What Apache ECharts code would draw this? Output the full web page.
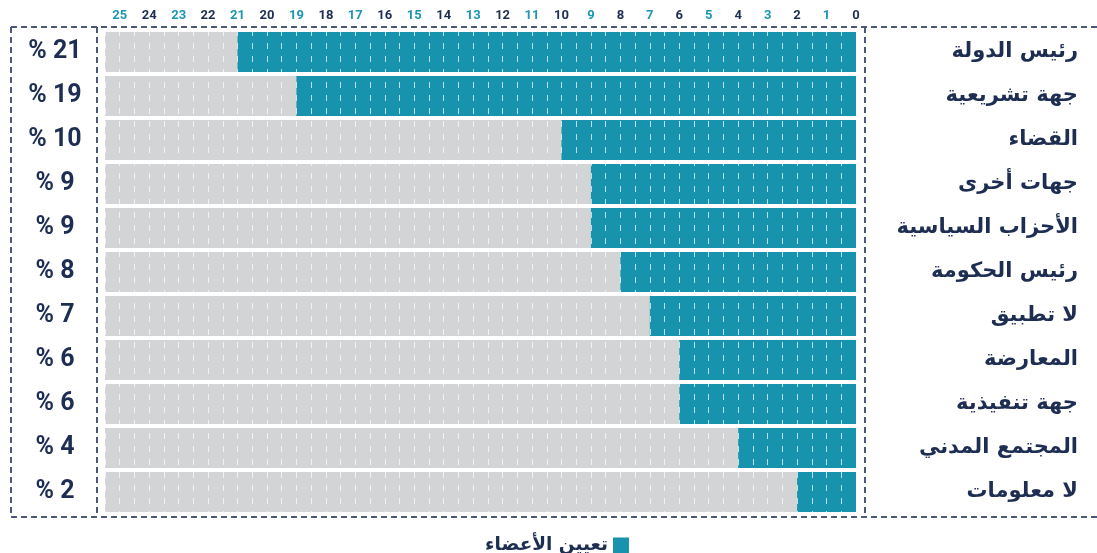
<!DOCTYPE html>
<html>
<head>
<meta charset="utf-8">
<script src="https://cdn.jsdelivr.net/npm/echarts@6/dist/echarts.min.js"></script>
<style>
  html, body { margin: 0; padding: 0; background: #fff; }
  #chart { width: 1097px; height: 553px; }
</style>
</head>
<body>
<div id="chart"></div>
<script>
// data
const categories = ['رئيس الدولة', 'جهة تشريعية', 'القضاء', 'جهات أخرى', 'الأحزاب السياسية',
  'رئيس الحكومة', 'لا تطبيق', 'المعارضة', 'جهة تنفيذية', 'المجتمع المدني', 'لا معلومات'];
const values = [21, 19, 10, 9, 9, 8, 7, 6, 6, 4, 2];
const percentLabels = ['% 21', '% 19', '% 10', '% 9', '% 9', '% 8', '% 7', '% 6', '% 6', '% 4', '% 2'];
const seriesName = 'تعيين الأعضاء';

(function() {
    const chart = echarts.init(document.getElementById('chart'), null, { renderer: 'canvas' });

    const navy = '#1e2d52';
    const teal = '#1793ae';
    const dash = { stroke: '#4b5878', lineWidth: 2, lineDash: [6, 4] };
    const pctStyle = { fontFamily: 'Roboto', fontWeight: 'bold', fontSize: 25, color: navy };

    const option = {
        animation: false,
        backgroundColor: '#fff',
        grid: { left: 105, right: 241, top: 30, bottom: 39 },
        xAxis: {
            type: 'value',
            position: 'top',
            inverse: true,
            min: 0,
            max: 25.5,
            interval: 0.5,
            z: 5,
            axisLine: { show: false },
            axisTick: { show: false },
            axisLabel: {
                margin: 8,
                fontFamily: 'Roboto',
                fontWeight: 'bold',
                fontSize: 13,
                formatter: v => (Number.isInteger(v) ? String(v) : ''),
                color: v => (v % 2 === 1 ? '#1c96b4' : navy)
            },
            splitLine: {
                show: true,
                lineStyle: { color: 'rgba(255,255,255,0.7)', width: 1, type: [6, 7] }
            }
        },
        yAxis: [
            {
                type: 'category',
                data: categories,
                inverse: true,
                position: 'right',
                axisLine: { show: false },
                axisTick: { show: false },
                axisLabel: {
                    align: 'right',
                    margin: 222,
                    fontFamily: 'DejaVu Sans',
                    fontWeight: 'bold',
                    fontSize: 21,
                    color: navy
                }
            },
            {
                type: 'category',
                data: percentLabels,
                inverse: true,
                position: 'left',
                axisLine: { show: false },
                axisTick: { show: false },
                axisLabel: {
                    align: 'center',
                    margin: 50,
                    // draw each piece on its own so the order stays "% n"
                    formatter: s => s.split(' ').map(p => '{t|' + p + '}').join('{t| }'),
                    rich: { t: pctStyle }
                }
            }
        ],
        legend: {
            data: [seriesName],
            left: 480,
            top: 531,
            align: 'right',
            icon: 'rect',
            itemWidth: 16,
            itemHeight: 16,
            itemGap: 10,
            textStyle: {
                fontFamily: 'DejaVu Sans',
                fontWeight: 'bold',
                fontSize: 18.5,
                color: navy
            }
        },
        series: [
            {
                name: seriesName,
                type: 'bar',
                data: values,
                barCategoryGap: '9%',
                itemStyle: { color: teal },
                showBackground: true,
                backgroundStyle: { color: '#d3d4d6' }
            }
        ],
        // dashed frame around the table
        graphic: [
            { type: 'line', shape: { x1: 11, y1: 27, x2: 1097, y2: 27 }, style: dash, silent: true },
            { type: 'line', shape: { x1: 11, y1: 517, x2: 1097, y2: 517 }, style: dash, silent: true },
            { type: 'line', shape: { x1: 11, y1: 27, x2: 11, y2: 517 }, style: dash, silent: true },
            { type: 'line', shape: { x1: 97, y1: 27, x2: 97, y2: 517 }, style: dash, silent: true },
            { type: 'line', shape: { x1: 865, y1: 27, x2: 865, y2: 517 }, style: dash, silent: true }
        ]
    };

    chart.setOption(option);
    window.addEventListener('resize', () => chart.resize());
})();
</script>
</body>
</html>
